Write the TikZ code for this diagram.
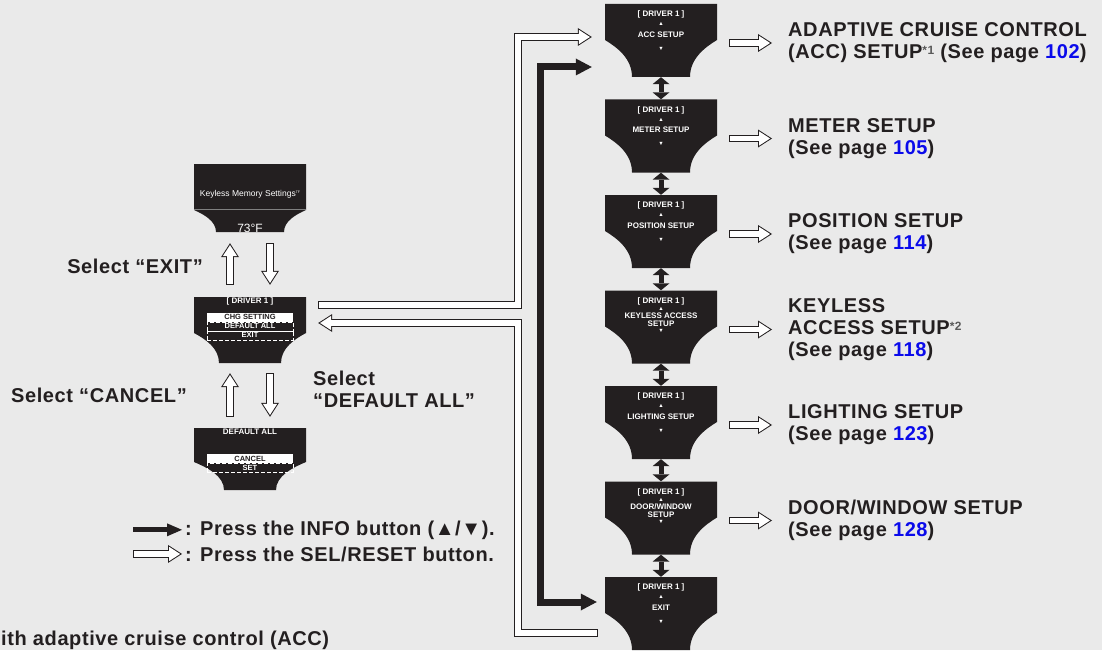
\documentclass[tikz,border=0pt]{standalone}
\usepackage{fontspec}
\setmainfont{Liberation Sans}
\newfontfamily\nhanfont{Liberation Sans}[LetterSpace=3]
\usetikzlibrary{arrows.meta,calc}
\definecolor{nenxam}{RGB}{234,234,234}
\definecolor{mauden}{HTML}{231F20}
\definecolor{xanhso}{RGB}{10,10,235}
\definecolor{xamsao}{RGB}{90,90,90}
\newcommand{\sotrang}[1]{\textcolor{xanhso}{#1}}
\newcommand{\chuthich}[1]{\textcolor{xamsao}{\raisebox{4pt}{\fontsize{12}{12}\selectfont *#1}}}
\newcommand{\noidung}[2]{\parbox[c][#1pt][t]{112pt}{\centering #2}}
\newcommand{\tamgiac}[1]{{\fontsize{5.5}{5.5}\selectfont #1}}
\newcommand{\motdong}[1]{\noidung{73}{\vspace*{7pt}[ DRIVER 1 ]\\[-1.5pt]\tamgiac{▲}\\[1pt]#1\\[2.5pt]\tamgiac{▼}}}
\newcommand{\haidong}[2]{\noidung{73}{\vspace*{7pt}[ DRIVER 1 ]\\[-3.5pt]\tamgiac{▲}\\[-2pt]#1\\[-3pt]#2\\[-4pt]\tamgiac{▼}}}
\begin{document}
\begin{tikzpicture}[x=1pt,y=-1pt,line join=miter,
	manhinh/.style n args={3}{minimum width=112pt, minimum height=#1pt, inner sep=0pt, text=white,
		font=\fontsize{8}{10.5}\bfseries\selectfont,
		path picture={\fill[mauden] (path picture bounding box.north west) -- (path picture bounding box.north east)
			-- ([yshift=-#2pt]path picture bounding box.north east)
			.. controls +({-0.45*#3},{0.2*(#1-#2)}) and +(0,{-0.5*(#1-#2)}) .. ([xshift=-#3pt]path picture bounding box.south east)
			-- ([xshift=#3pt]path picture bounding box.south west)
			.. controls +(0,{-0.5*(#1-#2)}) and +({0.45*#3},{0.2*(#1-#2)}) .. ([yshift=-#2pt]path picture bounding box.north west) -- cycle;}},
	hopchon/.style={fill=white, text=mauden, minimum width=86pt, minimum height=9pt, inner sep=0pt, font=\fontsize{7.5}{7.5}\bfseries\selectfont},
	hopdut/.style={draw=white, line width=0.6pt, dash pattern=on 4pt off 2pt, text=white, minimum width=86pt, minimum height=9pt, inner sep=0pt, font=\fontsize{7.5}{7.5}\bfseries\selectfont},
	chudam/.style={text=mauden, inner sep=0pt, font=\nhanfont\bfseries\fontsize{20}{22}\selectfont},
	muirong/.style={draw=mauden, line width=7.5pt, -{Triangle[length=14pt,width=18pt,line width=0pt]},
		postaction={draw=white, line width=5.5pt, shorten <=1pt, shorten >=1.9pt, -{Triangle[length=11.1pt,width=14.4pt,line width=0pt]}}},
	muiden/.style={draw=mauden, line width=7pt},
	muikep/.style={draw=mauden, line width=5pt, {Triangle[length=7pt,width=17pt,line width=0pt]}-{Triangle[length=7pt,width=17pt,line width=0pt]}},
	muidennho/.style={draw=mauden, line width=5pt, -{Triangle[length=15pt,width=13pt,line width=0pt]}}]
	\useasboundingbox (0,0) rectangle (1102,650);
	\fill[nenxam] (0,0) rectangle (1102,650);
	\node[manhinh={73}{36}{27}] (nodeAcc) at (661,40.5) {\motdong{ACC SETUP}};
	\node[manhinh={73}{36}{27}] (nodeMeter) at (661,136) {\motdong{METER SETUP}};
	\node[manhinh={73}{36}{27}] (nodePos) at (661,231.5) {\motdong{POSITION SETUP}};
	\node[manhinh={73}{36}{27}] (nodeKey) at (661,327) {\haidong{KEYLESS ACCESS}{SETUP}};
	\node[manhinh={73}{36}{27}] (nodeLight) at (661,422.5) {\motdong{LIGHTING SETUP}};
	\node[manhinh={73}{36}{27}] (nodeDoor) at (661,518) {\haidong{DOOR/WINDOW}{SETUP}};
	\node[manhinh={73}{36}{27}] (nodeExitMh) at (661,613.5) {\motdong{EXIT}};
	\node[manhinh={68}{46}{22}] (nodeNho) at (250,198) {\noidung{68}{\vspace*{26pt}{\mdseries\fontsize{8.5}{10.5}\selectfont Keyless Memory Settings\raisebox{3pt}{\fontsize{3.5}{4}\selectfont TF}}\\[26pt]{\mdseries\fontsize{12}{12}\selectfont 73°F}}};
	\node[manhinh={66}{36}{25}] (nodeChg) at (250,330) {\noidung{66}{\vspace*{1pt}[ DRIVER 1 ]}};
	\node[manhinh={62}{34}{30}] (nodeMacDinh) at (250,459) {\noidung{62}{\vspace*{1pt}DEFAULT ALL}};
	\node[hopchon] (nodeChgSet) at ($(nodeChg.north)+(0,20.5)$) {CHG SETTING};
	\node[hopdut] (nodeDefAll) at ($(nodeChg.north)+(0,29.5)$) {DEFAULT ALL};
	\node[hopdut] (nodeExitChon) at ($(nodeChg.north)+(0,38.5)$) {EXIT};
	\node[hopchon] (nodeCancel) at ($(nodeMacDinh.north)+(0,31)$) {CANCEL};
	\node[hopdut] (nodeSet) at ($(nodeMacDinh.north)+(0,40)$) {SET};
	\draw[gray, line width=0.8pt] ([yshift=-46pt]nodeNho.north west) -- ([yshift=-46pt]nodeNho.north east);
	\node[chudam, anchor=west, align=left] (nodeNhanAcc) at (788,43) {ADAPTIVE CRUISE CONTROL\\(ACC) SETUP\chuthich{1} (See page \sotrang{102})};
	\node[chudam, anchor=west, align=left] (nodeNhanMeter) at (788,138.5) {METER SETUP\\(See page \sotrang{105})};
	\node[chudam, anchor=west, align=left] (nodeNhanPos) at (788,234) {POSITION SETUP\\(See page \sotrang{114})};
	\node[chudam, anchor=west, align=left] (nodeNhanKey) at (788,329.5) {KEYLESS\\ACCESS SETUP\chuthich{2}\\(See page \sotrang{118})};
	\node[chudam, anchor=west, align=left] (nodeNhanLight) at (788,425) {LIGHTING SETUP\\(See page \sotrang{123})};
	\node[chudam, anchor=west, align=left] (nodeNhanDoor) at (788,520.5) {DOOR/WINDOW SETUP\\(See page \sotrang{128})};
	\node[chudam, anchor=base east] (nodeChonExit) at (203,273) {Select “EXIT”};
	\node[chudam, anchor=base east] (nodeChonCancel) at (187,402) {Select “CANCEL”};
	\node[chudam, anchor=north west, align=left] (nodeChonDef) at (313,371) {Select\\“DEFAULT ALL”};
	\node[chudam, anchor=base west] (nodeChuDen) at (185,535) {: Press the INFO button (▲/▼).};
	\node[chudam, anchor=base west] (nodeChuRong) at (185,561) {: Press the SEL/RESET button.};
	\node[chudam, anchor=base west] (nodeGhiChu) at (1,645) {ith adaptive cruise control (ACC)};
	\coordinate (busTrang) at (518,0);
	\coordinate (busDen) at (540,0);
	\coordinate (cotTrai) at (133,0);
	\coordinate (denTren) at ([xshift=-13pt,yshift=-26.5pt]nodeAcc.west);
	\coordinate (denDuoi) at ([xshift=-8pt,yshift=11.5pt]nodeExitMh.west);
	\coordinate (rongDi) at ([xshift=12pt,yshift=25pt]nodeChg.east);
	\coordinate (rongDen) at ([xshift=-13pt,yshift=3.5pt]nodeAcc.west);
	\coordinate (veDi) at ([xshift=-7pt,yshift=-19.5pt]nodeExitMh.west);
	\coordinate (veDen) at ([xshift=12pt,yshift=7pt]nodeChg.east);
	\draw[muiden, {Triangle[length=16pt,width=17pt,line width=0pt]}-{Triangle[length=16pt,width=17pt,line width=0pt]}] (denTren) -- (denTren -| busDen) -- (busDen |- denDuoi) -- (denDuoi);
	\draw[muirong] (rongDi) -- (rongDi -| busTrang) -- (busTrang |- rongDen) -- (rongDen);
	\draw[muirong] (veDi) -- (veDi -| busTrang) -- (busTrang |- veDen) -- (veDen);
	\foreach \tren/\duoi in {nodeAcc/nodeMeter,nodeMeter/nodePos,nodePos/nodeKey,nodeKey/nodeLight,nodeLight/nodeDoor,nodeDoor/nodeExitMh}
		\draw[muikep] (\tren.south) -- (\duoi.north);
	\foreach \mh/\nhan in {nodeAcc/nodeNhanAcc,nodeMeter/nodeNhanMeter,nodePos/nodeNhanPos,nodeKey/nodeNhanKey,nodeLight/nodeNhanLight,nodeDoor/nodeNhanDoor}
		\draw[muirong] ($(\mh.east |- \nhan.west)+(12,0)$) -- ([xshift=-16pt]\nhan.west);
	\draw[muirong] ([xshift=-20pt,yshift=12pt]nodeChg.north) -- ([xshift=-20pt,yshift=-11pt]nodeNho.south);
	\draw[muirong] ([xshift=20pt,yshift=-11pt]nodeNho.south) -- ([xshift=20pt,yshift=12pt]nodeChg.north);
	\draw[muirong] ([xshift=-20pt,yshift=11pt]nodeMacDinh.north) -- ([xshift=-20pt,yshift=-10pt]nodeChg.south);
	\draw[muirong] ([xshift=20pt,yshift=-10pt]nodeChg.south) -- ([xshift=20pt,yshift=11pt]nodeMacDinh.north);
	\draw[muidennho] (cotTrai |- nodeChuDen.west) -- ([xshift=-3pt]nodeChuDen.west);
	\draw[muirong] (cotTrai |- nodeChuRong.west) -- ([xshift=-3pt]nodeChuRong.west);
\end{tikzpicture}
\end{document}
